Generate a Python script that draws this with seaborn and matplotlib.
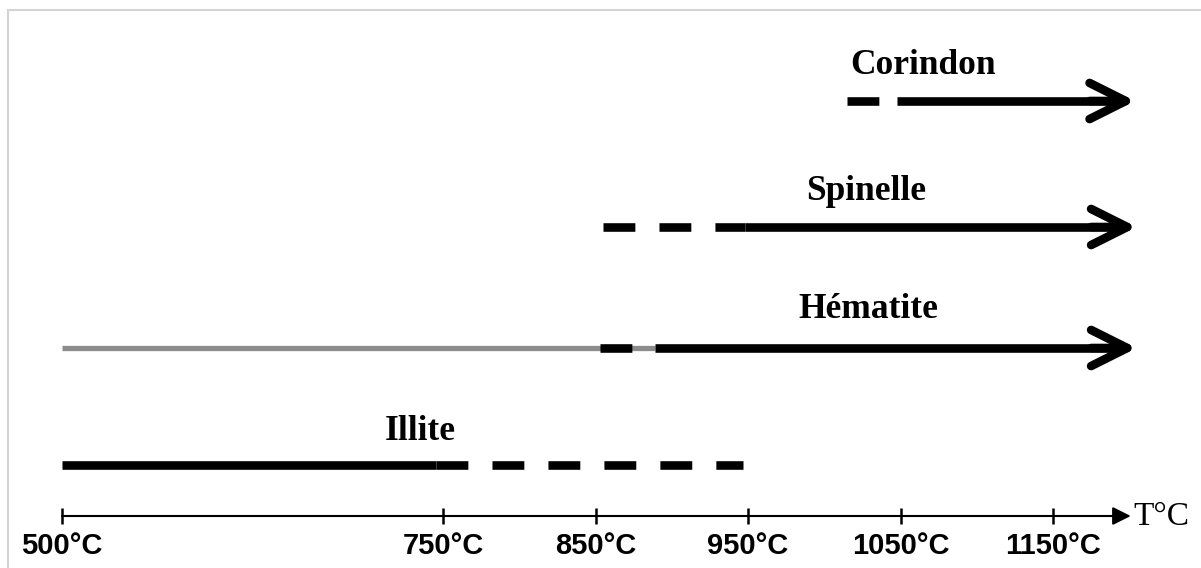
import matplotlib
matplotlib.use("Agg")
import matplotlib.pyplot as plt
import seaborn as sns
from matplotlib.patches import Rectangle

# ---------------- data (temperatures in °C) ----------------
phases = ["Corindon", "Spinelle", "Hématite", "Illite"]
# uncertain (dashed) ranges
dashed_start = [1015, 855, 853, 745]
dashed_end = [1048, 948, 889, 947]
# certain (solid) ranges
solid_start = [1048, 948, 889, 500]
solid_end = [1204, 1205, 1205, 745]
has_arrow = [True, True, True, False]
# faint (grey) presence range for hematite
grey_start = [None, None, 500, None]
grey_end = [None, None, 889, None]

tick_values = [500, 750, 850, 950, 1050, 1150]
tick_labels = ["500°C", "750°C", "850°C", "950°C", "1050°C", "1150°C"]
axis_start, axis_end = 500, 1201
axis_title = "T°C"

# ---------------- layout ----------------
W, H = 1201, 568
row_y = [101, 227, 348, 465]          # pixel rows (top-down)
label_pos = [(1064.5, 65), (1027.3, 191), (1028.7, 310), (734.8, 432)]
axis_y = 516
px_per_deg = 1.5246
x0_px = 62

sns.set_theme(style="white")
fig = plt.figure(figsize=(W / 100, H / 100), dpi=100)
ax = fig.add_axes([0, 0, 1, 1])
ax.set_xlim(500 - x0_px / px_per_deg, 500 + (W - x0_px) / px_per_deg)
ax.set_ylim(H, 0)
ax.axis("off")

# light grey frame
fig.patches.append(Rectangle((8 / W, -0.1), 1.2, (H - 10) / H + 0.1,
                             transform=fig.transFigure, fill=False,
                             edgecolor="#d4d4d4", linewidth=1.5))

LW = 6.2
dash = (3.7, 2.8)
tip_back = 8  # °C: keep the straight stroke behind the chevron tip

for i, name in enumerate(phases):
    y = row_y[i]
    if grey_start[i] is not None:
        sns.lineplot(x=[grey_start[i], grey_end[i]], y=[y, y], ax=ax,
                     color="#8c8c8c", linewidth=3.8, solid_capstyle="butt")
    # dashed part
    sns.lineplot(x=[dashed_start[i], dashed_end[i]], y=[y, y], ax=ax,
                 color="black", linewidth=LW, linestyle=(0, dash),
                 dash_capstyle="butt")
    # solid part
    end = solid_end[i] - tip_back if has_arrow[i] else solid_end[i]
    sns.lineplot(x=[solid_start[i], end], y=[y, y], ax=ax,
                 color="black", linewidth=LW, solid_capstyle="butt")
    if has_arrow[i]:
        ax.annotate("", xy=(solid_end[i], y), xytext=(solid_end[i] - 30, y),
                    arrowprops=dict(arrowstyle="->,head_length=2.6,head_width=1.3",
                                    mutation_scale=10, lw=LW, color="black",
                                    capstyle="round", joinstyle="round",
                                    shrinkA=0, shrinkB=0))
    lx, ly = label_pos[i]
    ax.text(lx, ly, name, ha="center", va="center", fontsize=25.5,
            fontweight="bold", family="Liberation Serif", color="black")

# temperature axis
ax.annotate("", xy=(axis_end, axis_y), xytext=(axis_start, axis_y),
            arrowprops=dict(arrowstyle="-|>,head_length=1.1,head_width=0.55",
                            mutation_scale=10, lw=1.5, color="black",
                            shrinkA=0, shrinkB=0))
ax.vlines(tick_values, axis_y - 8, axis_y + 8, color="black", linewidth=1.8)
for v, lab in zip(tick_values, tick_labels):
    ax.text(v, 546, lab, ha="center", va="center", fontsize=21,
            fontweight="bold", family="Liberation Sans", color="black")
ax.text(axis_end + 2, axis_y + 1, axis_title, ha="left", va="center",
        fontsize=24, family="Liberation Serif", color="black")

fig.savefig("out.png", dpi=100, facecolor="white")
